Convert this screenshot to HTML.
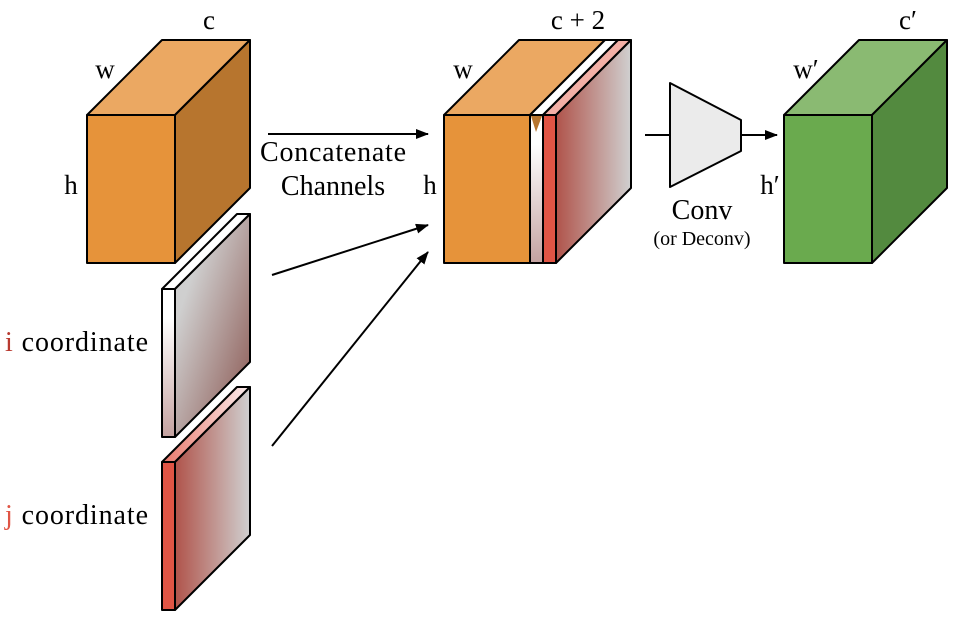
<!DOCTYPE html>
<html><head><style>body{margin:0;background:#fff}svg{display:block}text{font-family:"Liberation Serif",serif;fill:#000}</style></head>
<body>
<svg width="959" height="617" viewBox="0 0 959 617" xmlns="http://www.w3.org/2000/svg">
<defs>
<linearGradient id="gi" x1="0" y1="0" x2="1" y2="1"><stop offset="0.25" stop-color="#cfcfcf"/><stop offset="1" stop-color="#87514b"/></linearGradient>
<linearGradient id="gis" x1="0" y1="0" x2="0" y2="1"><stop offset="0.2" stop-color="#fff"/><stop offset="1" stop-color="#c4a2a0"/></linearGradient>
<linearGradient id="gj" x1="0" y1="0" x2="1" y2="0"><stop offset="0" stop-color="#b0534a"/><stop offset="1" stop-color="#d0d0d0"/></linearGradient>
<linearGradient id="gjt" x1="0" y1="0" x2="1" y2="0"><stop offset="0" stop-color="#e8776a"/><stop offset="1" stop-color="#fbeeee"/></linearGradient>
<marker id="ar" markerWidth="13" markerHeight="10" refX="12" refY="5" orient="auto" markerUnits="userSpaceOnUse"><path d="M0,0L13,5L0,10z" fill="#000"/></marker>
</defs>
<g stroke="#000" stroke-width="2" stroke-linejoin="round">
<polygon points="87,115 162,40 250,40 175,115" fill="#eba862"/>
<polygon points="175,115 250,40 250,188 175,263" fill="#b7752e"/>
<rect x="87" y="115" width="88" height="148" fill="#e6933a"/>
<polygon points="162,289 237,214 250,214 175,289" fill="#fff"/>
<polygon points="175,289 250,214 250,362 175,437" fill="url(#gi)"/>
<rect x="162" y="289" width="13" height="148" fill="url(#gis)"/>
<polygon points="162,462 237,387 250,387 175,462" fill="url(#gjt)"/>
<polygon points="175,462 250,387 250,535 175,610" fill="url(#gj)"/>
<rect x="162" y="462" width="13" height="148" fill="#e05545"/>
<polygon points="444,115 519,40 605,40 530,115" fill="#eba862"/>
<polygon points="530,115 605,40 618,40 543,115" fill="#fff"/>
<polygon points="543,115 618,40 631,40 556,115" fill="#f3b0a6"/>
<polygon points="556,115 631,40 631,188 556,263" fill="url(#gj)"/>
<rect x="543" y="115" width="13" height="148" fill="#e05545"/>
<rect x="530" y="115" width="13" height="148" fill="url(#gis)"/>
<rect x="444" y="115" width="86" height="148" fill="#e6933a"/>
<polygon points="531,116 542,116 536,132" fill="#b7752e" stroke="none"/>
<polygon points="784,115 859,40 947,40 872,115" fill="#8aba72"/>
<polygon points="872,115 947,40 947,188 872,263" fill="#538a3f"/>
<rect x="784" y="115" width="88" height="148" fill="#6aaa4e"/>
<polygon points="670,83 741,120 741,151 670,187" fill="#ebebeb"/>
</g>
<g stroke="#000" stroke-width="2" fill="none">
<line x1="268" y1="134" x2="428" y2="134" marker-end="url(#ar)"/>
<line x1="272" y1="275" x2="428" y2="225" marker-end="url(#ar)"/>
<line x1="272" y1="446" x2="428" y2="252" marker-end="url(#ar)"/>
<line x1="645" y1="135" x2="670" y2="135"/>
<line x1="741" y1="135" x2="777" y2="135" marker-end="url(#ar)"/>
</g>
<g font-size="27">
<text x="209" y="29" text-anchor="middle">c</text>
<text x="105" y="78" text-anchor="middle">w</text>
<text x="71" y="194" text-anchor="middle">h</text>
<text x="578" y="29" text-anchor="middle">c + 2</text>
<text x="463" y="78" text-anchor="middle">w</text>
<text x="430" y="194" text-anchor="middle">h</text>
<text x="908" y="29" text-anchor="middle">c′</text>
<text x="806" y="78" text-anchor="middle">w′</text>
<text x="770" y="194" text-anchor="middle">h′</text>
</g>
<g font-size="28">
<text x="333" y="161" text-anchor="middle" textLength="146">Concatenate</text>
<text x="333" y="195" text-anchor="middle">Channels</text>
<text x="702" y="219" text-anchor="middle">Conv</text>
<text x="5" y="351" textLength="143"><tspan style="fill:#b83a30">i</tspan> coordinate</text>
<text x="5" y="524" textLength="143"><tspan style="fill:#e05545">j</tspan> coordinate</text>
</g>
<text x="702" y="245" text-anchor="middle" font-size="20">(or Deconv)</text>
</svg>
</body></html>
